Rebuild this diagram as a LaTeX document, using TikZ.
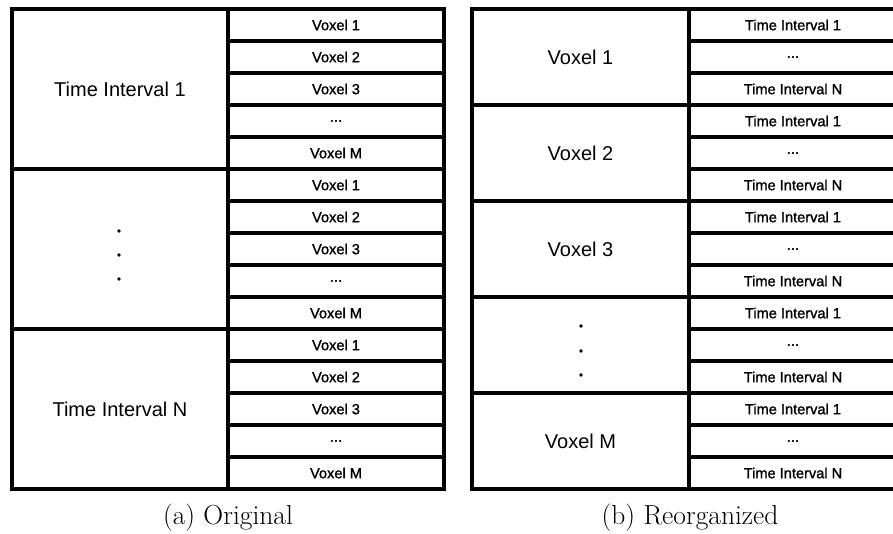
\documentclass[tikz,border=0pt]{standalone}
\usepackage{fontspec}
\newfontfamily\cellfont{Liberation Sans}
\newfontfamily\smallcellfont[FakeBold=1.3]{Liberation Sans}
\newcommand\skiprow{...}
\begin{document}
\begin{tikzpicture}[x=1pt,y=-1pt,
  cell/.style={draw=black,line width=3.4pt,rectangle,inner sep=0pt,outer sep=0pt,
    minimum width=#1,font=\smallcellfont\fontsize{14.6}{18}\selectfont},
  bigcell/.style={draw=black,line width=3.6pt,rectangle,inner sep=0pt,outer sep=0pt,
    minimum width=#1,font=\cellfont\fontsize{20}{24}\selectfont},
  dotmark/.style={circle,fill=black,inner sep=0pt,minimum size=3.8pt},
  caption/.style={font=\fontsize{27.5}{32}\selectfont}]
\useasboundingbox (0,0) rectangle (893,534);
\begin{scope}
\clip (0,0) rectangle (893,534);

% ---- (a) Original: time intervals, each holding voxels 1..M ----
\foreach \g/\lab in {0/Time Interval 1,1/{},2/Time Interval N}{
  \node[bigcell=216pt,minimum height=160pt] (a\g) at (120,{9+160*\g+80}) {\lab};
  \foreach \r/\v in {0/Voxel 1,1/Voxel 2,2/Voxel 3,3/\skiprow,4/Voxel M}{
    \node[cell=216pt,minimum height=32pt] (a\g r\r) at (336,{9+160*\g+32*\r+16}) {\v};
  }
}
\node[dotmark] (ad1) at (119,231) {};
\node[dotmark] (ad2) at (119,255) {};
\node[dotmark] (ad3) at (119,279) {};

% ---- (b) Reorganized: voxels, each holding time intervals 1..N ----
\foreach \g/\lab in {0/Voxel 1,1/Voxel 2,2/Voxel 3,3/{},4/Voxel M}{
  \node[bigcell=217pt,minimum height=96pt] (b\g) at (580.5,{9+96*\g+48}) {\lab};
  \foreach \r/\t in {0/Time Interval 1,1/\skiprow,2/Time Interval N}{
    \node[cell=208pt,minimum height=32pt] (b\g r\r) at (793,{9+96*\g+32*\r+16}) {\t};
  }
}
\node[dotmark] (bd1) at (581,326) {};
\node[dotmark] (bd2) at (581,351) {};
\node[dotmark] (bd3) at (581,375) {};
\end{scope}

% ---- captions ----
\node[caption] (capa) at (228,518) {(a) Original};
\node[caption] (capb) at (690,518) {(b) Reorganized};
\end{tikzpicture}
\end{document}
